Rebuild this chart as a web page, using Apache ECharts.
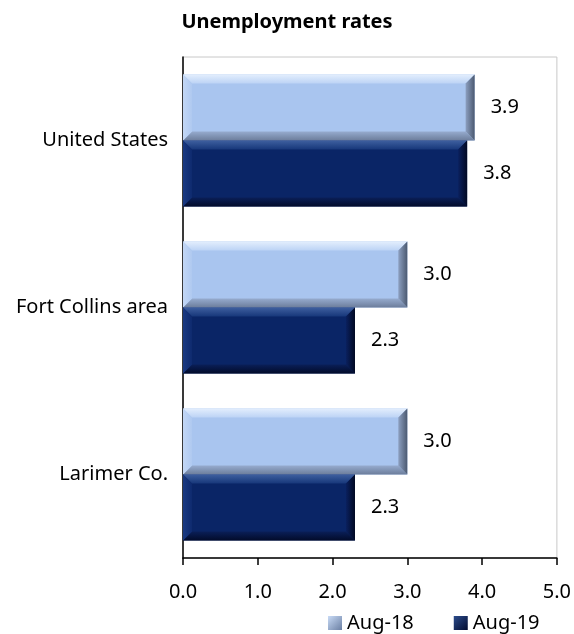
<!DOCTYPE html>
<html>
<head>
<meta charset="utf-8">
<script src="https://cdn.jsdelivr.net/npm/echarts@6/dist/echarts.min.js"></script>
<style>
  html, body { margin: 0; padding: 0; background: #fff; }
  #chart { width: 574px; height: 634px; }
</style>
</head>
<body>
<div id="chart"></div>
<script>
const categories = ['United States', 'Fort Collins area', 'Larimer Co.'];
const seriesNames = ['Aug-18', 'Aug-19'];
const aug18 = [3.9, 3.0, 3.0];
const aug19 = [3.8, 2.3, 2.3];
const xTicks = { min: 0, max: 5, interval: 1 };

const FONT = 'Noto Sans';
const grad = (x2, y2, a, b) => new echarts.graphic.LinearGradient(0, 0, x2, y2, [
  { offset: 0, color: a },
  { offset: 1, color: b },
]);

// bevel palettes (outer -> inner for edges)
const palettes = [
  {
    body: '#a9c5ef',
    top: grad(0, 1, '#e3eefd', '#bcd3f5'),
    bottom: grad(0, 1, '#96abce', '#6c7d9b'),
    left: grad(1, 0, '#c3d7f5', '#afc9f0'),
    right: grad(1, 0, '#8c9fc0', '#4b5970'),
  },
  {
    body: '#0a2566',
    top: grad(0, 1, '#3e5f9f', '#17377a'),
    bottom: grad(0, 1, '#0a1f58', '#020b2a'),
    left: grad(1, 0, '#1a3a82', '#0e2a6e'),
    right: grad(1, 0, '#0a205e', '#010923'),
  },
];

const renderBevelBar = (seriesIdx) => (params, api) => {
  const value = api.value(0);
  const cat = api.value(1);
  const start = api.coord([0, cat]);
  const end = api.coord([value, cat]);
  const band = api.size([0, 1])[1];
  const h = band * 0.79 / 2;
  const x0 = start[0];
  const x1 = end[0];
  const y0 = seriesIdx === 0 ? start[1] - h : start[1];
  const y1 = y0 + h;
  const b = 9;
  const p = palettes[seriesIdx];
  const poly = (points, fill) => ({ type: 'polygon', shape: { points }, style: { fill } });
  return {
    type: 'group',
    children: [
      { type: 'rect', shape: { x: x0, y: y0, width: x1 - x0, height: h }, style: { fill: p.body } },
      poly([[x0, y0], [x1, y0], [x1 - b, y0 + b], [x0 + b, y0 + b]], p.top),
      poly([[x0, y1], [x1, y1], [x1 - b, y1 - b], [x0 + b, y1 - b]], p.bottom),
      poly([[x0, y0], [x0 + b, y0 + b], [x0 + b, y1 - b], [x0, y1]], p.left),
      poly([[x1, y0], [x1 - b, y0 + b], [x1 - b, y1 - b], [x1, y1]], p.right),
      {
        type: 'text',
        style: {
          x: x1 + 16,
          y: (y0 + y1) / 2,
          text: value.toFixed(1),
          fill: '#000',
          font: `20px "${FONT}"`,
          verticalAlign: 'middle',
          align: 'left',
        },
      },
    ],
  };
};

const chart = echarts.init(document.getElementById('chart'));

const option = {
  animation: false,
  title: {
    text: 'Unemployment rates',
    left: 'center',
    top: 7,
    textStyle: { fontFamily: FONT, fontSize: 20, fontWeight: 'bold', color: '#000' },
  },
  legend: {
    data: [
      { name: seriesNames[0], itemStyle: { color: grad(1, 1, '#c9dbf6', '#6a7fa3') } },
      { name: seriesNames[1], itemStyle: { color: grad(1, 1, '#2c4c8c', '#020c30') } },
    ],
    left: 328,
    top: 613,
    padding: 0,
    itemWidth: 14,
    itemHeight: 14,
    itemGap: 40,
    icon: 'rect',
    textStyle: { fontFamily: FONT, fontSize: 20, color: '#000' },
  },
  grid: {
    left: 183,
    right: 16,
    top: 57,
    bottom: 76,
    show: true,
    borderColor: '#c8c8c8',
    borderWidth: 1,
  },
  xAxis: {
    type: 'value',
    min: xTicks.min,
    max: xTicks.max,
    interval: xTicks.interval,
    axisLine: { show: true, lineStyle: { color: '#000', width: 1.5 } },
    axisTick: { show: true, length: 7, lineStyle: { color: '#000', width: 1.5 } },
    splitLine: { show: false },
    axisLabel: {
      margin: 24,
      fontFamily: FONT,
      fontSize: 20,
      color: '#000',
      formatter: (v) => v.toFixed(1),
    },
  },
  yAxis: {
    type: 'category',
    inverse: true,
    data: categories,
    axisLine: { show: true, lineStyle: { color: '#000', width: 1.5 } },
    axisTick: { show: false },
    axisLabel: { margin: 15, fontFamily: FONT, fontSize: 20, color: '#000' },
  },
  series: [aug18, aug19].map((vals, i) => ({
    name: seriesNames[i],
    type: 'custom',
    renderItem: renderBevelBar(i),
    encode: { x: 0, y: 1 },
    itemStyle: { color: palettes[i].body },
    data: vals.map((v, j) => [v, j]),
  })),
};

chart.setOption(option);
</script>
</body>
</html>
